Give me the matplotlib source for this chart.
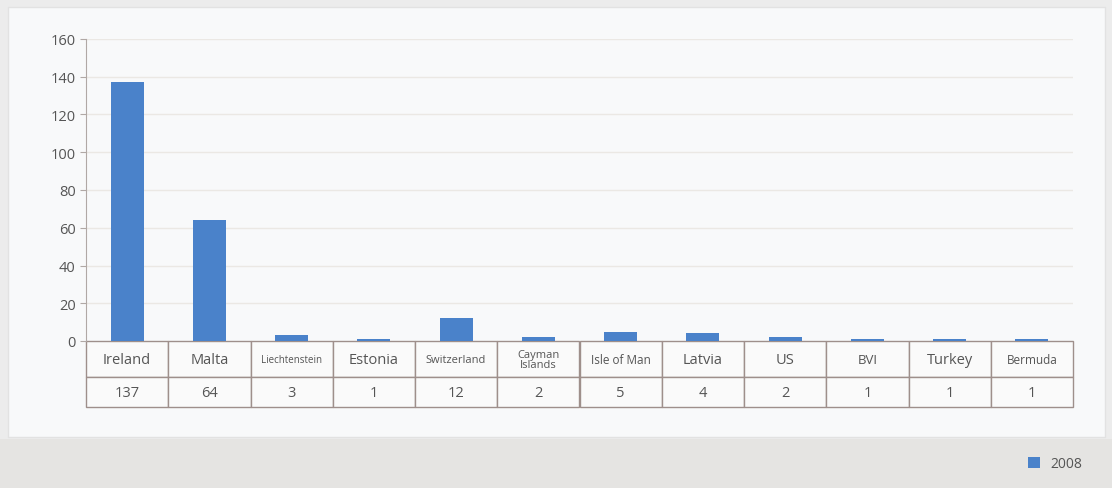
import matplotlib.pyplot as plt
from matplotlib.patches import Rectangle

plt.rcParams['font.family'] = ['Open Sans', 'DejaVu Sans']

# data
countries = ['Ireland', 'Malta', 'Liechtenstein', 'Estonia', 'Switzerland',
             'Cayman\nIslands', 'Isle of Man', 'Latvia', 'US', 'BVI', 'Turkey', 'Bermuda']
values_2008 = [137, 64, 3, 1, 12, 2, 5, 4, 2, 1, 1, 1]
label_sizes = [10.5, 10.5, 7, 10.5, 8, 8, 8.5, 10.5, 10.5, 9.5, 10.5, 8.5]
y_ticks = [0, 20, 40, 60, 80, 100, 120, 140, 160]

W, H = 1112, 489
fig = plt.figure(figsize=(W / 100, H / 100), dpi=100)
fig.patch.set_facecolor('#ececec')

# white panel and grey bottom band
fig.patches.append(Rectangle((8 / W, 1 - 438 / H), 1097 / W, 430 / H,
                             transform=fig.transFigure, facecolor='#f8f9fa',
                             edgecolor='#e2e2e2', lw=1, zorder=-10))
fig.patches.append(Rectangle((0, 0), 1, 1 - 440 / H, transform=fig.transFigure,
                             facecolor='#e5e4e2', edgecolor='none', zorder=-10))

left, right, top, bottom = 86, 1073, 40, 342
ax = fig.add_axes([left / W, 1 - bottom / H, (right - left) / W, (bottom - top) / H])
ax.set_facecolor('none')

x = range(len(countries))
ax.bar(x, values_2008, width=0.4, color='#4a82ca', zorder=3, label='2008')
ax.set_xlim(-0.5, len(countries) - 0.5)
ax.set_ylim(0, 160)
ax.set_yticks(y_ticks)
ax.tick_params(axis='y', labelsize=10.5, labelcolor='#555555', color='#b0a8a5', length=4)
ax.set_xticks([])
ax.grid(axis='y', color='#ebe8e4', lw=1, zorder=0)
for s in ['top', 'right', 'bottom']:
    ax.spines[s].set_visible(False)
ax.spines['left'].set_color('#b0a8a5')

# data table under the axes
tbl_h = (408 - bottom) / (bottom - top)
tbl = ax.table(cellText=[[str(v) for v in values_2008]], colLabels=countries,
               cellLoc='center', bbox=[0, -tbl_h, 1, tbl_h])
tbl.auto_set_font_size(False)
for (r, c), cell in tbl.get_celld().items():
    cell.set_edgecolor('#9e8f8b')
    cell.set_linewidth(1)
    cell.set_facecolor('#fafafa')
    cell.get_text().set_color('#555555')
    if r == 0:
        cell.set_height(tbl_h * 0.55)
        cell.get_text().set_fontsize(label_sizes[c])
        if '\n' in countries[c]:
            cell.get_text().set_linespacing(0.85)
    else:
        cell.set_height(tbl_h * 0.45)
        cell.get_text().set_fontsize(10.5)

leg = fig.legend(loc='center right', bbox_to_anchor=(1095 / W, 1 - 465 / H),
                 frameon=False, fontsize=10, handlelength=0.8, handleheight=0.8,
                 handletextpad=0.8)
for t in leg.get_texts():
    t.set_color('#555555')

fig.savefig('out.png', dpi=100, facecolor=fig.get_facecolor())
